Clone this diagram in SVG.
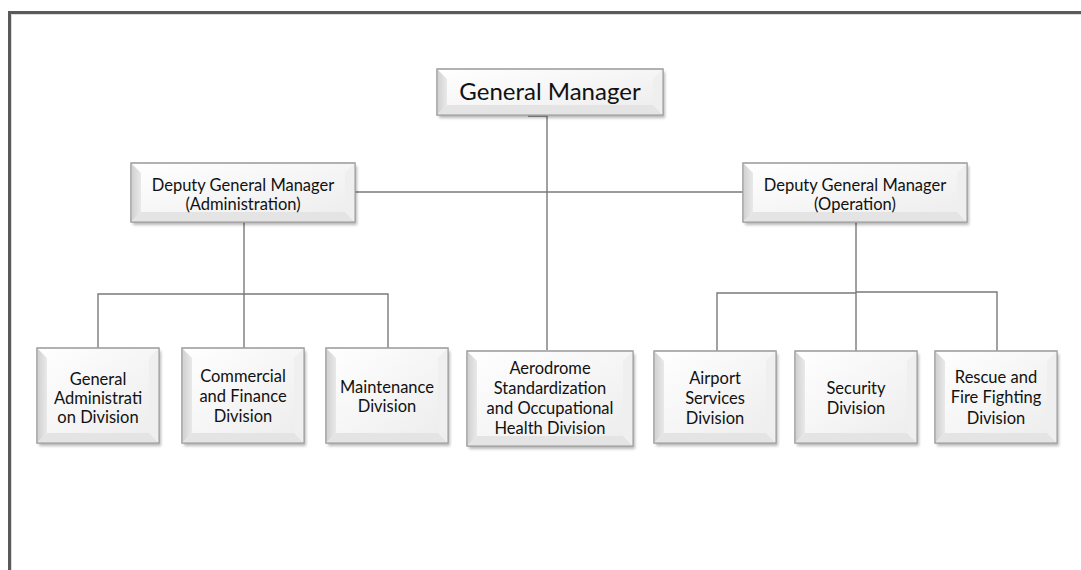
<svg xmlns="http://www.w3.org/2000/svg" width="1081" height="570" viewBox="0 0 1081 570">
<defs>
<style>
.face{fill:url(#gface);stroke:#a3a3a3;stroke-width:1.2}
.bl{fill:url(#gleft)}
.bb{fill:#e4e4e4}
.br{fill:#efefef}
.sh{fill:#000;opacity:.28;filter:url(#blur)}
.lbl{font-family:Lato,"Open Sans","Liberation Sans",sans-serif;fill:#111;text-anchor:middle}
.t15{font-size:16.5px}
.t14{font-size:16.5px}
.t22{font-size:24px}
.con{fill:none;stroke:#7a7a7a;stroke-width:1.4}
</style>
<linearGradient id="gface" x1="0" y1="0" x2="1" y2="1">
<stop offset="0" stop-color="#ffffff"/><stop offset="1" stop-color="#ececec"/>
</linearGradient>
<linearGradient id="gleft" x1="0" y1="0" x2="1" y2="0">
<stop offset="0" stop-color="#cfcfcf"/><stop offset="1" stop-color="#e9e9e9"/>
</linearGradient>
<filter id="blur" x="-10%" y="-10%" width="120%" height="130%"><feGaussianBlur stdDeviation="1.6"/></filter>
</defs>
<rect width="1081" height="570" fill="#fff"/>
<path d="M9.5,570 V12.5 H1081" fill="none" stroke="#5a5a5a" stroke-width="3"/>
<path d="M11.5,570 V14.5 H1081" fill="none" stroke="#dcdcdc" stroke-width="1"/>

<g id="connectors">
<path class="con" d="M528,116 H547 V350"/>
<path class="con" d="M355,192 H743"/>
<path class="con" d="M244,222 V294 M98,348 V294 H388 V348 M244,294 V348"/>
<path class="con" d="M856,222 V293 M717,351 V293 H856 M856,292 H997 V351 M856,292 V351"/>
</g>

<g id="gm">
<rect class="sh" x="439" y="72" width="226" height="46"/>
<rect class="face" x="437" y="69" width="226" height="46"/>
<polygon class="bl" points="437,69 447,79 447,105 437,115"/>
<polygon class="bb" points="437,115 447,105 653,105 663,115"/>
<polygon class="br" points="663,69 653,79 653,105 663,115"/>
<rect x="437" y="69" width="226" height="46" fill="none" stroke="#a3a3a3" stroke-width="1.2"/>
<text class="lbl t22" x="550" y="100">General Manager</text>
</g>

<g id="dgm-admin">
<rect class="sh" x="133" y="166" width="224" height="59"/>
<rect class="face" x="131" y="163" width="224" height="59"/>
<polygon class="bl" points="131,163 141,173 141,212 131,222"/>
<polygon class="bb" points="131,222 141,212 345,212 355,222"/>
<polygon class="br" points="355,163 345,173 345,212 355,222"/>
<rect x="131" y="163" width="224" height="59" fill="none" stroke="#a3a3a3" stroke-width="1.2"/>
<text class="lbl t14" x="243" y="191">Deputy General Manager</text>
<text class="lbl t14" x="243" y="210">(Administration)</text>
</g>

<g id="dgm-op">
<rect class="sh" x="745" y="166" width="224" height="59"/>
<rect class="face" x="743" y="163" width="224" height="59"/>
<polygon class="bl" points="743,163 753,173 753,212 743,222"/>
<polygon class="bb" points="743,222 753,212 957,212 967,222"/>
<polygon class="br" points="967,163 957,173 957,212 967,222"/>
<rect x="743" y="163" width="224" height="59" fill="none" stroke="#a3a3a3" stroke-width="1.2"/>
<text class="lbl t14" x="855" y="191">Deputy General Manager</text>
<text class="lbl t14" x="855" y="210">(Operation)</text>
</g>

<g id="gen-admin">
<rect class="sh" x="39" y="351" width="122" height="95"/>
<rect class="face" x="37" y="348" width="122" height="95"/>
<polygon class="bl" points="37,348 47,358 47,433 37,443"/>
<polygon class="bb" points="37,443 47,433 149,433 159,443"/>
<polygon class="br" points="159,348 149,358 149,433 159,443"/>
<rect x="37" y="348" width="122" height="95" fill="none" stroke="#a3a3a3" stroke-width="1.2"/>
<text class="lbl t15" x="98" y="385">General</text>
<text class="lbl t15" x="98" y="404">Administrati</text>
<text class="lbl t15" x="98" y="423">on Division</text>
</g>

<g id="commercial">
<rect class="sh" x="184" y="351" width="122" height="95"/>
<rect class="face" x="182" y="348" width="122" height="95"/>
<polygon class="bl" points="182,348 192,358 192,433 182,443"/>
<polygon class="bb" points="182,443 192,433 294,433 304,443"/>
<polygon class="br" points="304,348 294,358 294,433 304,443"/>
<rect x="182" y="348" width="122" height="95" fill="none" stroke="#a3a3a3" stroke-width="1.2"/>
<text class="lbl t15" x="243" y="382">Commercial</text>
<text class="lbl t15" x="243" y="402">and Finance</text>
<text class="lbl t15" x="243" y="422">Division</text>
</g>

<g id="maintenance">
<rect class="sh" x="328" y="351" width="122" height="95"/>
<rect class="face" x="326" y="348" width="122" height="95"/>
<polygon class="bl" points="326,348 336,358 336,433 326,443"/>
<polygon class="bb" points="326,443 336,433 438,433 448,443"/>
<polygon class="br" points="448,348 438,358 438,433 448,443"/>
<rect x="326" y="348" width="122" height="95" fill="none" stroke="#a3a3a3" stroke-width="1.2"/>
<text class="lbl t15" x="387" y="393">Maintenance</text>
<text class="lbl t15" x="387" y="412">Division</text>
</g>

<g id="aerodrome">
<rect class="sh" x="469" y="354" width="166" height="95"/>
<rect class="face" x="467" y="351" width="166" height="95"/>
<polygon class="bl" points="467,351 477,361 477,436 467,446"/>
<polygon class="bb" points="467,446 477,436 623,436 633,446"/>
<polygon class="br" points="633,351 623,361 623,436 633,446"/>
<rect x="467" y="351" width="166" height="95" fill="none" stroke="#a3a3a3" stroke-width="1.2"/>
<text class="lbl t15" x="550" y="374">Aerodrome</text>
<text class="lbl t15" x="550" y="394">Standardization</text>
<text class="lbl t15" x="550" y="414">and Occupational</text>
<text class="lbl t15" x="550" y="434">Health Division</text>
</g>

<g id="airport-services">
<rect class="sh" x="656" y="354" width="122" height="92"/>
<rect class="face" x="654" y="351" width="122" height="92"/>
<polygon class="bl" points="654,351 664,361 664,433 654,443"/>
<polygon class="bb" points="654,443 664,433 766,433 776,443"/>
<polygon class="br" points="776,351 766,361 766,433 776,443"/>
<rect x="654" y="351" width="122" height="92" fill="none" stroke="#a3a3a3" stroke-width="1.2"/>
<text class="lbl t15" x="715" y="384">Airport</text>
<text class="lbl t15" x="715" y="404">Services</text>
<text class="lbl t15" x="715" y="424">Division</text>
</g>

<g id="security">
<rect class="sh" x="797" y="354" width="122" height="92"/>
<rect class="face" x="795" y="351" width="122" height="92"/>
<polygon class="bl" points="795,351 805,361 805,433 795,443"/>
<polygon class="bb" points="795,443 805,433 907,433 917,443"/>
<polygon class="br" points="917,351 907,361 907,433 917,443"/>
<rect x="795" y="351" width="122" height="92" fill="none" stroke="#a3a3a3" stroke-width="1.2"/>
<text class="lbl t15" x="856" y="394">Security</text>
<text class="lbl t15" x="856" y="414">Division</text>
</g>

<g id="rescue">
<rect class="sh" x="937" y="354" width="122" height="92"/>
<rect class="face" x="935" y="351" width="122" height="92"/>
<polygon class="bl" points="935,351 945,361 945,433 935,443"/>
<polygon class="bb" points="935,443 945,433 1047,433 1057,443"/>
<polygon class="br" points="1057,351 1047,361 1047,433 1057,443"/>
<rect x="935" y="351" width="122" height="92" fill="none" stroke="#a3a3a3" stroke-width="1.2"/>
<text class="lbl t15" x="996" y="383">Rescue and</text>
<text class="lbl t15" x="996" y="403">Fire Fighting</text>
<text class="lbl t15" x="996" y="424">Division</text>
</g>
</svg>
